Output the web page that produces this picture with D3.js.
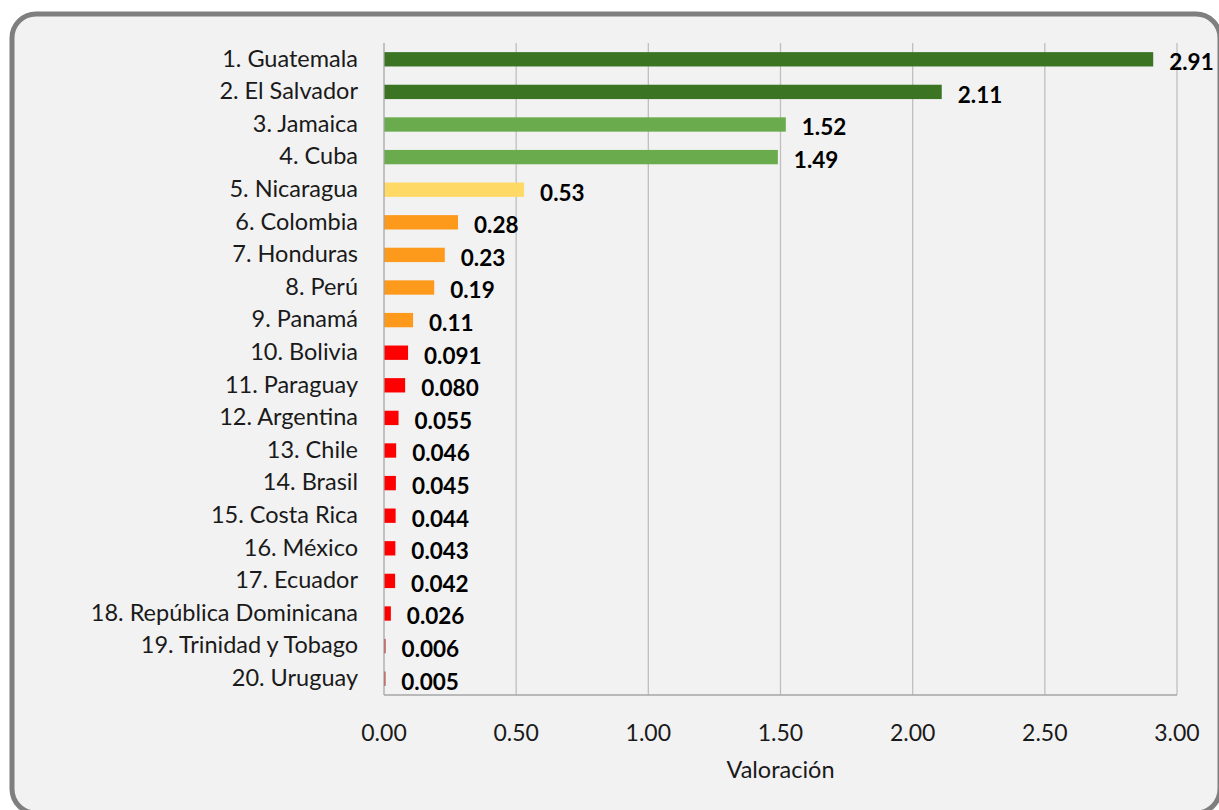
<!DOCTYPE html>
<html>
<head>
<meta charset="utf-8">
<script src="https://cdn.jsdelivr.net/npm/d3@7"></script>
<style>
  body { margin: 0; background: #ffffff; }
  svg text { font-family: Lato, "Open Sans", sans-serif; }
</style>
</head>
<body>
<div id="chart"></div>
<script>
    var countries = ["1. Guatemala", "2. El Salvador", "3. Jamaica", "4. Cuba", "5. Nicaragua",
        "6. Colombia", "7. Honduras", "8. Perú", "9. Panamá", "10. Bolivia", "11. Paraguay",
        "12. Argentina", "13. Chile", "14. Brasil", "15. Costa Rica", "16. México", "17. Ecuador",
        "18. República Dominicana", "19. Trinidad y Tobago", "20. Uruguay"]
    var values = [2.91, 2.11, 1.52, 1.49, 0.53, 0.28, 0.23, 0.19, 0.11, 0.091, 0.080,
        0.055, 0.046, 0.045, 0.044, 0.043, 0.042, 0.026, 0.006, 0.005]
    var valueLabels = ["2.91", "2.11", "1.52", "1.49", "0.53", "0.28", "0.23", "0.19", "0.11",
        "0.091", "0.080", "0.055", "0.046", "0.045", "0.044", "0.043", "0.042", "0.026", "0.006", "0.005"]
    // colour group per bar
    var groups = ["dg", "dg", "lg", "lg", "y", "o", "o", "o", "o", "r", "r", "r", "r", "r", "r", "r", "r", "r", "dr", "dr"]
    var xTicks = [0, 0.5, 1, 1.5, 2, 2.5, 3]

    var colors = { dg: "#3b7524", lg: "#6aac4d", y: "#ffd965", o: "#fd9a1b", r: "#fe0000", dr: "#c0282d" }

    var W = 1219, H = 810
    var margin = { top: 43, left: 384, right: 42, bottom: 115 }
    var width = W - margin.left - margin.right,
        height = H - margin.top - margin.bottom

    var root = d3.select("#chart").append("svg")
        .attr("width", W)
        .attr("height", H)

    // frame (partly cut by the page edges)
    root.append("rect")
        .attr("x", 12).attr("y", 14)
        .attr("width", 1208).attr("height", 799)
        .attr("rx", 24).attr("ry", 24)
        .attr("fill", "#f2f2f2")
        .attr("stroke", "#7f7f7f")
        .attr("stroke-width", 5)

    var svg = root.append("g")
        .attr("transform", "translate(" + margin.left + "," + margin.top + ")")

    var x = d3.scaleLinear().domain([0, 3]).range([0, width])
    var y = d3.scaleBand().domain(countries).range([0, height]).paddingInner(0.56).paddingOuter(0.28)

    // gridlines
    svg.selectAll(".grid")
        .data(xTicks.slice(1))
        .enter().append("line")
        .attr("class", "grid")
        .attr("x1", function(d) { return x(d) })
        .attr("x2", function(d) { return x(d) })
        .attr("y1", 0)
        .attr("y2", height)
        .attr("stroke", "#bfbfbf")
        .attr("stroke-width", 1.3)

    // bars
    svg.selectAll(".bar")
        .data(values)
        .enter().append("rect")
        .attr("class", "bar")
        .attr("x", 0)
        .attr("y", function(d, i) { return y(countries[i]) })
        .attr("width", function(d) { return Math.max(x(d), 1.5) })
        .attr("height", y.bandwidth())
        .attr("fill", function(d, i) { return colors[groups[i]] })

    // axes lines
    svg.append("line")
        .attr("x1", 0).attr("x2", 0).attr("y1", 0).attr("y2", height)
        .attr("stroke", "#a6a6a6").attr("stroke-width", 1.3)
    svg.append("line")
        .attr("x1", 0).attr("x2", width).attr("y1", height).attr("y2", height)
        .attr("stroke", "#a6a6a6").attr("stroke-width", 1.3)

    // value labels
    svg.selectAll(".val")
        .data(values)
        .enter().append("text")
        .attr("class", "val")
        .attr("x", function(d) { return x(d) + 16 })
        .attr("y", function(d, i) { return y(countries[i]) + y.bandwidth() / 2 + 3 })
        .attr("dy", "0.35em")
        .attr("font-size", 22.5)
        .attr("font-weight", "bold")
        .attr("fill", "#000")
        .text(function(d, i) { return valueLabels[i] })

    // category labels
    svg.selectAll(".cat")
        .data(countries)
        .enter().append("text")
        .attr("class", "cat")
        .attr("x", -26)
        .attr("y", function(d) { return y(d) + y.bandwidth() / 2 - 1 })
        .attr("dy", "0.35em")
        .attr("text-anchor", "end")
        .attr("font-size", 23.5)
        .attr("fill", "#1a1a1a")
        .text(function(d) { return d })

    // x tick labels
    svg.selectAll(".tick-label")
        .data(xTicks)
        .enter().append("text")
        .attr("class", "tick-label")
        .attr("x", function(d) { return x(d) })
        .attr("y", height + 38)
        .attr("dy", "0.35em")
        .attr("text-anchor", "middle")
        .attr("font-size", 23)
        .attr("fill", "#1a1a1a")
        .text(function(d) { return d3.format(".2f")(d) })

    // axis title
    svg.append("text")
        .attr("x", width / 2)
        .attr("y", height + 75)
        .attr("dy", "0.35em")
        .attr("text-anchor", "middle")
        .attr("font-size", 23.5)
        .attr("fill", "#1a1a1a")
        .text("Valoración")
</script>
</body>
</html>
